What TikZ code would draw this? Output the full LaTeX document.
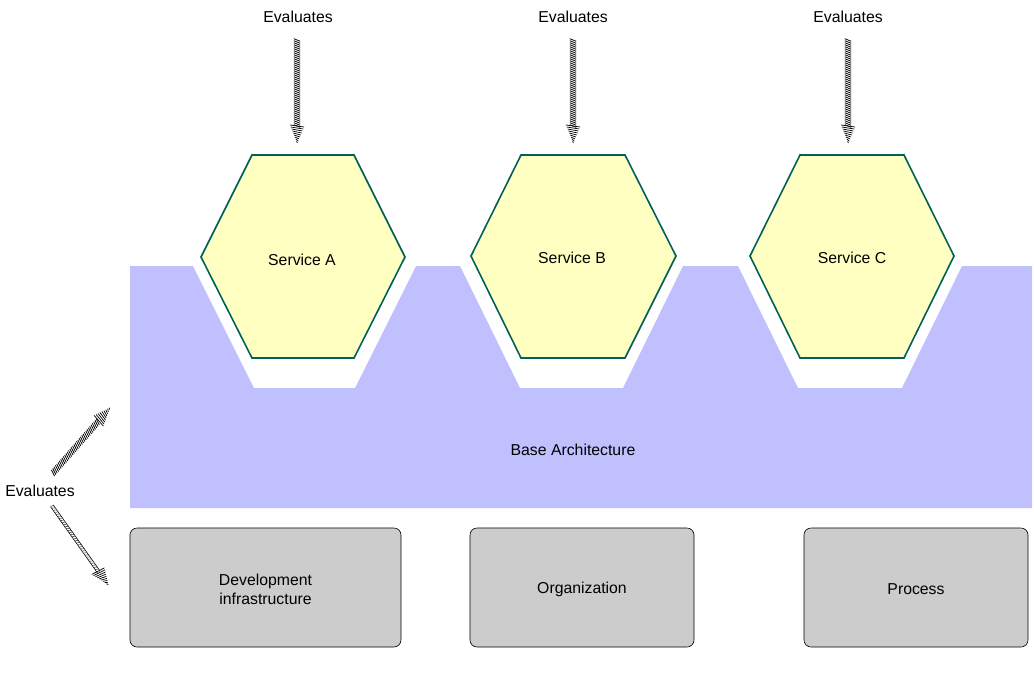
\documentclass[tikz,border=0pt]{standalone}
\usepackage{fontspec}
\setmainfont{Liberation Sans}
\usetikzlibrary{decorations.markings}
\definecolor{basefill}{HTML}{C0C0FF}
\definecolor{hexfill}{HTML}{FFFFC2}
\definecolor{hexline}{HTML}{00605A}
\definecolor{boxfill}{HTML}{CCCCCC}
\tikzset{
  lbl/.style={font=\fontsize{15.8}{19}\selectfont, inner sep=0pt, align=center},
  hexshape/.style={fill=hexfill, draw=hexline, line width=1.6pt, line join=miter},
  infobox/.style={draw=black, line width=0.6pt, fill=boxfill, rounded corners=7pt, minimum height=119pt},
  hatchhead/.style={decorate, decoration={markings,
    mark=at position 1 with {
      \foreach \d in {1,3,...,17}{
        \pgfmathsetmacro\hw{7.5*\d/18}
        \draw[line width=0.7pt] ({(-\d-1)*1pt},{-\hw*1pt}) -- ({(-\d+1)*1pt},{\hw*1pt});
      }}}},
  hatcharrow/.style={decorate, decoration={markings,
    mark=between positions 0 and -17pt step 2pt with {
      \draw[line width=0.8pt] (-1.3pt,-3.2pt) -- (1.3pt,3.2pt);},
    mark=at position 1 with {
      \foreach \d in {1,3,...,17}{
        \pgfmathsetmacro\hw{7.5*\d/18}
        \draw[line width=0.7pt] ({(-\d-1)*1pt},{-\hw*1pt}) -- ({(-\d+1)*1pt},{\hw*1pt});
      }}}},
  innerhatch/.style={decorate, decoration={markings,
    mark=between positions 0 and -17pt step 2.5pt with {
      \draw[line width=0.4pt] (-0.8pt,-1.4pt) -- (0.8pt,1.4pt);}}},
}
\begin{document}
\begin{tikzpicture}[x=1pt,y=-1pt]
\useasboundingbox (0,0) rectangle (1034,689);
% base architecture
\fill[basefill] (130,266) -- (193,266) -- (254,388) -- (355,388) -- (416,266)
  -- (460,266) -- (520,388) -- (623,388) -- (683,266)
  -- (738,266) -- (798,388) -- (902,388) -- (962,266)
  -- (1032,266) -- (1032,508) -- (130,508) -- cycle;
\node[lbl] (base) at (573,450) {Base Architecture};
% hexagons
\draw[hexshape] (252,155) -- (354,155) -- (405,257) -- (354,358) -- (252,358) -- (201,257) -- cycle;
\node[lbl] (sa) at (302,260) {Service A};
\draw[hexshape] (521,155) -- (625,155) -- (676,256) -- (625,358) -- (521,358) -- (471,256) -- cycle;
\node[lbl] (sb) at (572,258) {Service B};
\draw[hexshape] (800,155) -- (904,155) -- (954,256) -- (904,358) -- (800,358) -- (750,256) -- cycle;
\node[lbl] (sc) at (852,258) {Service C};
% boxes
\node[infobox, minimum width=271pt] (dev) at (265.5,587.5) {};
\node[infobox, minimum width=224pt] (org) at (582,587.5) {};
\node[infobox, minimum width=224pt] (proc) at (916,587.5) {};
\node[lbl] (devt) at ([yshift=-1.5pt]dev.center) {Development\\infrastructure};
\node[lbl] (orgt) at ([yshift=-1.5pt]org.center) {Organization};
\node[lbl] (proct) at ([yshift=-1.5pt]proc.center) {Process};
% top evaluates
\node[lbl] (ea) at (298,17) {Evaluates};
\node[lbl] (eb) at (573,17) {Evaluates};
\node[lbl] (ec) at (848,17) {Evaluates};
\coordinate (a1) at (297,40); \coordinate (a2) at (297,143);
\coordinate (b1) at (573,40); \coordinate (b2) at (573,143);
\coordinate (c1) at (848,40); \coordinate (c2) at (848,143);
\path[hatcharrow] (a1) -- (a2);
\path[hatcharrow] (b1) -- (b2);
\path[hatcharrow] (c1) -- (c2);
% left evaluates
\node[lbl] (el) at (40,491) {Evaluates};
\coordinate (u1) at (53,473); \coordinate (u2) at (110,408);
\path[hatcharrow] (u1) -- (u2);
\coordinate (d1) at (52,506); \coordinate (d2) at (108,585);
\draw[double, double distance=2.4pt, line width=0.7pt, shorten >=16pt] (d1) -- (d2);
\path[innerhatch] (d1) -- (d2);
\path[hatchhead] (d1) -- (d2);
\end{tikzpicture}
\end{document}
